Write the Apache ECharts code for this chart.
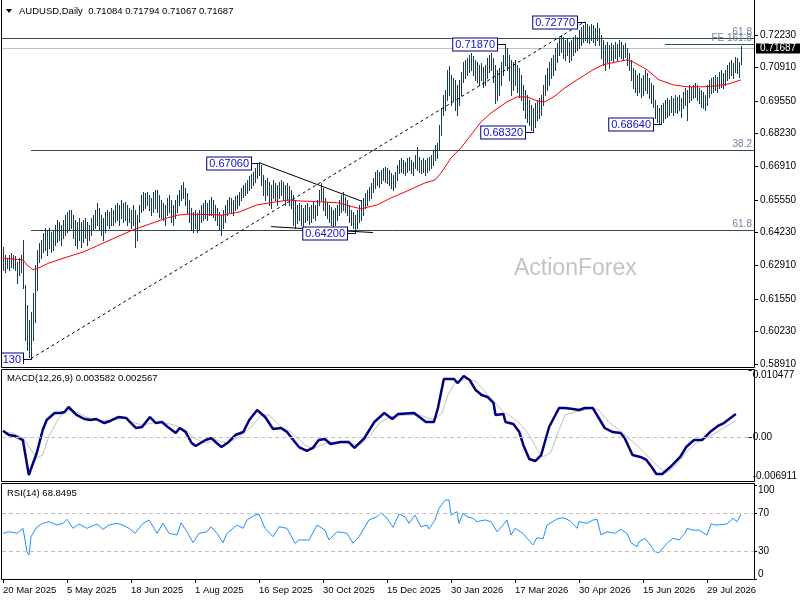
<!DOCTYPE html>
<html><head><meta charset="utf-8">
<script src="https://cdn.jsdelivr.net/npm/echarts@6/dist/echarts.min.js"></script>
<style>html,body{margin:0;padding:0;background:#fff}#c{width:800px;height:600px}</style>
</head><body><div id="c"></div>
<script>
// ---------- data ----------
const symbolTitle = 'AUDUSD,Daily';
const lastOHLC = ['0.71084', '0.71794', '0.71067', '0.71687'];
const lastClose = 0.71687;
const macdTitle = 'MACD(12,26,9)';
const macdLast = ['0.003582', '0.002567'];
const rsiTitle = 'RSI(14)';
const rsiLast = '68.8495';
const tickLabels = ['20 Mar 2025', '5 May 2025', '18 Jun 2025', '1 Aug 2025', '16 Sep 2025', '30 Oct 2025',
  '15 Dec 2025', '30 Jan 2026', '17 Mar 2026', '30 Apr 2026', '15 Jun 2026', '29 Jul 2026'];
const barsPerLabel = 32;
const priceTicks = [0.58910, 0.60230, 0.61550, 0.62910, 0.64230, 0.65550, 0.66910, 0.68230, 0.69550, 0.70910, 0.72230];
const macdTicks = [-0.006911, 0, 0.010477];
const rsiTicks = [0, 30, 70, 100];

// daily highs / lows in 1e-4 units (pips)
const highs = [
6365,6332,6320,6332,6340,6332,6328,6304,6320,6332,
6393,6211,6130,6069,6101,6178,6292,6353,6381,6393,
6421,6442,6434,6442,6425,6434,6454,6474,6466,6454,
6474,6494,6506,6515,6515,6494,6474,6466,6482,6466,
6474,6482,6466,6454,6482,6494,6515,6543,6523,6494,
6482,6506,6515,6506,6523,6515,6535,6543,6535,6555,
6543,6547,6535,6523,6515,6535,6515,6494,6535,6575,
6587,6583,6587,6575,6563,6587,6596,6596,6575,6555,
6543,6535,6563,6575,6555,6535,6555,6575,6596,6616,
6628,6604,6583,6555,6523,6506,6515,6502,6515,6535,
6543,6555,6543,6555,6567,6555,6535,6523,6506,6494,
6515,6535,6555,6567,6563,6555,6571,6575,6587,6604,
6616,6624,6636,6652,6660,6669,6685,6705,6706,6697,
6656,6636,6644,6628,6616,6636,6624,6616,6628,6636,
6628,6616,6624,6612,6596,6575,6555,6535,6543,6535,
6523,6535,6543,6527,6535,6547,6535,6555,6596,6624,
6604,6563,6547,6535,6527,6515,6523,6535,6555,6575,
6587,6567,6555,6535,6515,6506,6494,6515,6535,6555,
6563,6583,6596,6608,6624,6644,6669,6677,6669,6677,
6685,6689,6685,6677,6664,6656,6669,6697,6717,6725,
6717,6709,6725,6729,6717,6709,6737,6770,6729,6717,
6725,6717,6725,6729,6737,6758,6778,6786,6859,6928,
6980,7001,7082,7098,7061,7049,7041,7021,7041,7073,
7114,7122,7130,7142,7150,7138,7122,7114,7102,7110,
7094,7102,7130,7142,7150,7130,7102,7082,7090,7114,
7142,7187,7171,7142,7122,7114,7122,7102,7090,7061,
7021,7001,6980,6960,6940,6928,6948,6960,6968,6980,
7021,7061,7090,7114,7130,7142,7171,7191,7211,7223,
7215,7203,7211,7195,7203,7215,7223,7215,7244,7256,
7264,7277,7268,7260,7268,7264,7252,7272,7252,7223,
7203,7183,7195,7183,7191,7183,7195,7187,7203,7195,
7183,7191,7171,7150,7122,7090,7082,7061,7069,7049,
7061,7082,7069,7049,7029,7021,6960,6940,6928,6940,
6948,6960,6968,6960,6976,6968,6980,6972,6980,6968,
6992,7009,7001,7021,7013,7021,7029,7021,7009,7001,
6992,6980,7021,7041,7049,7053,7061,7053,7073,7082,
7069,7082,7102,7114,7122,7110,7134,7130,7114,7179];
const lows = [
6272,6263,6280,6272,6284,6280,6272,6219,6251,6263,
6199,5988,5948,5919,5913,5988,6061,6191,6304,6320,
6344,6353,6332,6361,6344,6353,6373,6385,6393,6373,
6401,6413,6425,6434,6442,6401,6373,6361,6393,6365,
6385,6401,6373,6393,6413,6434,6442,6454,6434,6413,
6393,6425,6454,6442,6454,6454,6466,6474,6454,6482,
6466,6474,6454,6466,6442,6454,6365,6393,6466,6506,
6515,6523,6535,6515,6494,6506,6523,6506,6486,6482,
6474,6454,6494,6506,6466,6454,6482,6506,6535,6555,
6563,6535,6502,6466,6434,6425,6442,6425,6434,6466,
6474,6482,6474,6494,6494,6486,6474,6454,6434,6413,
6442,6466,6494,6506,6502,6494,6515,6523,6535,6555,
6567,6575,6583,6596,6604,6616,6628,6644,6656,6616,
6575,6555,6575,6535,6523,6563,6555,6535,6563,6575,
6555,6535,6555,6535,6523,6454,6442,6462,6474,6454,
6450,6466,6474,6458,6466,6482,6474,6494,6535,6555,
6515,6494,6482,6466,6454,6446,6454,6474,6494,6506,
6515,6506,6494,6466,6454,6442,6420,6442,6466,6474,
6494,6523,6535,6555,6563,6587,6604,6616,6608,6624,
6636,6628,6624,6616,6604,6596,6608,6636,6664,6669,
6664,6656,6669,6677,6664,6656,6685,6677,6669,6664,
6669,6656,6669,6677,6685,6697,6717,6725,6758,6818,
6899,6920,6960,6980,6940,6960,6920,6899,6940,6980,
7033,7049,7061,7073,7082,7061,7041,7033,7021,7041,
7013,7021,7049,7073,7082,7033,6948,6960,6980,7021,
7061,7102,7082,7041,6980,7001,7021,6992,6972,6960,
6920,6887,6871,6859,6839,6832,6851,6879,6887,6899,
6940,6980,7001,7021,7049,7061,7082,7114,7142,7154,
7130,7122,7142,7114,7122,7142,7154,7163,7171,7183,
7195,7203,7195,7191,7203,7195,7183,7203,7183,7130,
7102,7082,7114,7090,7122,7114,7130,7122,7138,7130,
7122,7134,7102,7082,7041,7009,6992,6980,6992,6972,
6980,7001,6988,6968,6948,6932,6887,6871,6867,6864,
6871,6887,6891,6899,6911,6899,6911,6907,6920,6891,
6928,6940,6879,6952,6960,6968,6972,6960,6948,6932,
6928,6920,6940,6972,6988,6992,7001,6992,7009,7013,
7009,7021,7041,7049,7061,7049,7073,7069,7053,7107];

// moving average (bar index, price)
const maLine = [[0,0.6320],[10,0.6312],[12,0.6292],[15,0.6272],[18,0.6280],[23,0.6300],[32,0.6324],[40,0.6344],[48,0.6373],[65,0.6434],[82,0.6482],[88,0.6494],[93,0.6498],[110,0.6494],[118,0.6506],[127,0.6535],[133,0.6543],[143,0.6555],[148,0.6551],[160,0.6547],[168,0.6543],[175,0.6527],[179,0.6519],[187,0.6535],[194,0.6563],[202,0.6591],[211,0.6624],[216,0.6636],[219,0.6664],[224,0.6725],[229,0.6766],[234,0.6818],[239,0.6871],[244,0.6907],[252,0.6952],[257,0.6972],[262,0.6972],[267,0.6956],[271,0.6952],[276,0.6976],[281,0.7009],[287,0.7041],[295,0.7082],[300,0.7102],[307,0.7114],[312,0.7122],[315,0.7114],[322,0.7082],[328,0.7041],[335,0.7021],[342,0.7013],[350,0.7013],[357,0.7017],[363,0.7025],[369,0.7041]];

const macdLine = [[0,0.00097],[3,0.00030],[6,0.00014],[10,-0.00049],[13,-0.00597],[14,-0.00566],[17,-0.00253],[20,0.00108],[22,0.00265],[26,0.00374],[29,0.00374],[31,0.00390],[33,0.00468],[37,0.00343],[41,0.00280],[44,0.00265],[47,0.00280],[51,0.00217],[54,0.00249],[58,0.00311],[62,0.00296],[64,0.00233],[67,0.00139],[70,0.00155],[74,0.00311],[77,0.00217],[80,0.00233],[83,0.00155],[87,0.00061],[89,0.00139],[92,0.00076],[95,-0.00096],[97,-0.00143],[102,-0.00049],[105,-0.00018],[107,-0.00080],[110,-0.00159],[113,-0.00096],[117,0.00029],[121,0.00076],[124,0.00265],[128,0.00421],[132,0.00311],[136,0.00123],[140,0.00139],[143,0.00076],[147,-0.00080],[149,-0.00159],[153,-0.00221],[156,-0.00174],[159,-0.00049],[162,-0.00033],[165,-0.00112],[170,-0.00080],[174,-0.00080],[177,-0.00174],[178,-0.00174],[182,-0.00018],[187,0.00233],[192,0.00374],[196,0.00280],[199,0.00358],[207,0.00374],[213,0.00233],[217,0.00233],[219,0.00452],[222,0.00907],[227,0.00907],[229,0.00844],[232,0.00954],[235,0.00891],[238,0.00734],[241,0.00656],[244,0.00625],[247,0.00531],[248,0.00343],[252,0.00358],[253,0.00233],[257,0.00202],[260,0.00076],[262,-0.00127],[265,-0.00347],[268,-0.00378],[271,-0.00284],[275,0.00155],[280,0.00452],[283,0.00452],[287,0.00437],[290,0.00421],[293,0.00452],[297,0.00452],[300,0.00296],[303,0.00139],[307,0.00076],[311,0.00061],[313,-0.00018],[317,-0.00284],[321,-0.00315],[324,-0.00362],[327,-0.00487],[329,-0.00581],[332,-0.00581],[336,-0.00472],[341,-0.00315],[344,-0.00159],[348,-0.00049],[352,-0.00049],[356,0.00076],[360,0.00171],[363,0.00217],[369,0.003582]];

const signalLine = [[0,0.00076],[5,0.00061],[10,-0.00018],[17,-0.00331],[20,-0.00284],[23,0],[28,0.00296],[33,0.00421],[37,0.00390],[42,0.00311],[48,0.00249],[55,0.00265],[61,0.00296],[65,0.00233],[70,0.00186],[75,0.00217],[80,0.00233],[86,0.00186],[92,0.00108],[96,-0.00018],[102,-0.00096],[107,-0.00049],[113,-0.00096],[118,-0.00018],[125,0.00155],[130,0.00343],[134,0.00343],[140,0.00155],[145,0.00076],[152,-0.00127],[156,-0.00190],[160,-0.00127],[165,-0.00080],[173,-0.00096],[180,-0.00127],[185,0.00029],[190,0.00233],[195,0.00311],[202,0.00343],[210,0.00343],[217,0.00265],[221,0.00374],[224,0.00656],[228,0.00860],[233,0.00907],[238,0.00875],[245,0.00625],[252,0.00390],[257,0.00296],[260,0.00217],[265,0.00029],[270,-0.00253],[272,-0.00315],[276,-0.00237],[279,0.00029],[283,0.00343],[288,0.00390],[297,0.00452],[300,0.00421],[305,0.00233],[312,0.00061],[318,-0.00096],[325,-0.00315],[330,-0.00472],[334,-0.00566],[338,-0.00472],[345,-0.00206],[350,-0.00080],[357,0.00029],[363,0.00139],[369,0.002567]];

const rsiLine = [[0,48.6],[3,50.3],[7,48.6],[10,53.9],[12,29.0],[13,25.5],[14,45],[17,55.6],[20,59.2],[23,61],[27,57.4],[30,59.2],[32,63.5],[35,53.9],[38,58.5],[42,53.9],[47,58.5],[50,52.8],[53,57.4],[57,59.2],[60,57.4],[63,53.9],[66,48.6],[70,59.2],[73,62.8],[77,48.6],[80,59.2],[83,48.6],[87,46.8],[89,59.9],[92,50.3],[95,38.6],[98,48.6],[102,50.3],[104,55.6],[107,48.6],[110,38.6],[112,48.6],[117,57.4],[120,53.9],[122,62.8],[126,68],[128,69],[131,53.9],[135,45],[138,55.6],[142,53.9],[146,38],[148,41.5],[153,41.5],[157,57.4],[161,52],[163,41.5],[167,50.3],[172,48.6],[175,38],[178,45],[183,62.8],[187,66.3],[189,70.5],[192,64.6],[195,55],[198,69],[201,66.3],[203,59.2],[206,68],[209,55.6],[212,57.4],[213,53.2],[216,62.8],[218,75.2],[221,84],[223,84],[224,68],[227,71.6],[228,59.2],[230,69.9],[232,66.3],[235,64.6],[237,61],[241,62.8],[244,61],[247,50.3],[250,57.4],[252,62.8],[254,46.8],[256,53.9],[257,52],[260,48.6],[262,43.3],[265,36.2],[267,44],[270,42.6],[272,57.4],[277,63.8],[280,65.2],[282,63.5],[284,61],[287,53.9],[288,61],[292,59.2],[295,62.8],[297,63.5],[299,46.8],[302,50.3],[306,48.6],[309,52.8],[312,48.6],[314,38.6],[317,34.4],[318,39.7],[321,43.3],[323,38],[326,29],[328,28],[332,38],[335,43.3],[338,41.5],[341,48.6],[342,53.9],[345,52],[348,52],[352,46.8],[354,58.5],[357,57.4],[362,58.5],[365,64.6],[367,61],[369,68.8495]];

// analysis drawings (bar index, price[, text])
const fibLevels = [[0, 0.7211, '61.8'], [14, 0.6759, '38.2'], [14, 0.6435, '61.8'], [331, 0.7186, 'FE 161.8']];
const priceNotes = [[291, 0.7277, '0.72770'], [251, 0.7187, '0.71870'], [128, 0.6706, '0.67060'], [176, 0.6420, '0.64200'],
  [265, 0.6832, '0.68320'], [329, 0.6864, '0.68640'], [14, 0.5913, '0.59130']];
const trendDashed = [[14, 0.5913], [291, 0.7277]];
const triUpper = [[128, 0.6706], [179, 0.6551]];
const triLower = [[134, 0.6447], [185, 0.6423]];

// ---------- chart ----------
const slots = 376;
const categories = Array.from({length: slots}, (_, i) => i);
const barData = highs.map((h, i) => [i, lows[i] / 10000, h / 10000]);
const showTick = (idx) => idx % barsPerLabel === 0 && idx / barsPerLabel < tickLabels.length;
const FONT = 'Liberation Sans';
const barColor = '#173b52';

const chart = echarts.init(document.getElementById('c'), null, {renderer: 'canvas'});
const grids = [
  {left: 2, right: 46, top: 2, height: 362},
  {left: 2, right: 46, top: 370, height: 111},
  {left: 2, right: 46, top: 485, height: 94}
];
const xAxes = grids.map((g, gi) => ({
  gridIndex: gi, type: 'category', data: categories, boundaryGap: true,
  axisLine: {show: false}, splitLine: {show: false},
  axisTick: {show: gi === 2, interval: showTick, alignWithLabel: true, length: 4, lineStyle: {color: '#000'}},
  axisLabel: {show: gi === 2, interval: showTick, align: 'left', margin: 6, color: '#000', fontSize: 9.5, fontFamily: FONT,
    formatter: (v, idx) => tickLabels[Math.round(idx / barsPerLabel)] || ''}
}));
const yBase = {type: 'value', position: 'right', axisLine: {show: false}, splitLine: {show: false}};
const yAxes = [
  Object.assign({}, yBase, {gridIndex: 0, min: 0.5891, max: 0.73562,
    axisTick: {show: true, customValues: priceTicks, length: 4, lineStyle: {color: '#000'}},
    axisLabel: {customValues: priceTicks, formatter: v => v.toFixed(5), color: '#000', fontSize: 10, fontFamily: FONT, margin: 6}}),
  Object.assign({}, yBase, {gridIndex: 1, min: macdTicks[0], max: macdTicks[2],
    axisTick: {show: true, customValues: macdTicks, length: 3, lineStyle: {color: '#000'}},
    axisLabel: {customValues: macdTicks, formatter: v => v === 0 ? '0.00' : v.toFixed(6), color: '#000', fontSize: 10, fontFamily: FONT, margin: 4,
      verticalAlignMinLabel: 'bottom', verticalAlignMaxLabel: 'top'}}),
  Object.assign({}, yBase, {gridIndex: 2, min: 0, max: 100,
    axisTick: {show: true, customValues: rsiTicks, length: 3, lineStyle: {color: '#000'}},
    axisLabel: {customValues: rsiTicks, formatter: v => String(v), color: '#000', fontSize: 10, fontFamily: FONT, margin: 4,
      verticalAlignMinLabel: 'bottom', verticalAlignMaxLabel: 'top'}})
];

const series = [
  { // fib / expansion levels
    type: 'custom', xAxisIndex: 0, yAxisIndex: 0, z: 1, silent: true, clip: false,
    data: fibLevels.map(l => [l[0], l[1]]),
    encode: {x: 0, y: 1},
    renderItem: (params, api) => {
      const lv = fibLevels[params.dataIndex];
      const p = api.coord([api.value(0), api.value(1)]);
      const cs = params.coordSys;
      const y = Math.round(p[1]) + 0.5;
      const xs = lv[0] === 0 ? cs.x : p[0];
      const xe = cs.x + cs.width;
      return {type: 'group', children: [
        {type: 'line', shape: {x1: xs, y1: y, x2: xe, y2: y}, style: {stroke: '#2f4f4f', lineWidth: 1}},
        {type: 'text', x: xe - 2, y: y - 1, style: {text: lv[2], align: 'right', verticalAlign: 'bottom',
          fill: '#71839a', fontSize: 10, fontFamily: FONT}}
      ]};
    }
  },
  { // current price line + tag
    type: 'custom', xAxisIndex: 0, yAxisIndex: 0, z: 1, silent: true, clip: false,
    data: [[highs.length - 1, lastClose]], encode: {x: 0, y: 1},
    renderItem: (params, api) => {
      const p = api.coord([api.value(0), api.value(1)]);
      const cs = params.coordSys;
      const y = Math.round(p[1]) + 0.5;
      const xe = cs.x + cs.width;
      return {type: 'group', children: [
        {type: 'line', shape: {x1: cs.x, y1: y, x2: xe, y2: y}, style: {stroke: '#c0c0c0', lineWidth: 1}},
        {type: 'text', x: xe + 2, y: y, style: {text: lastOHLC[3], align: 'left', verticalAlign: 'middle',
          fill: '#fff', fontSize: 10, fontFamily: FONT, backgroundColor: '#000', padding: [0, 4, 0, 4], lineHeight: 10}}
      ]};
    }
  },
  { // price bars
    type: 'custom', name: 'AUDUSD', xAxisIndex: 0, yAxisIndex: 0, z: 2, silent: true,
    data: barData, encode: {x: 0, y: [1, 2]},
    renderItem: (params, api) => {
      const i = api.value(0);
      const t = api.coord([i, api.value(2)]);
      const b = api.coord([i, api.value(1)]);
      const x = Math.round(t[0]) + 0.5;
      return {type: 'line', shape: {x1: x, y1: Math.round(t[1]), x2: x, y2: Math.round(b[1]) + 1},
        style: {stroke: barColor, lineWidth: 1}};
    }
  },
  {
    type: 'line', name: 'MA', xAxisIndex: 0, yAxisIndex: 0, data: maLine, symbol: 'none', z: 3, silent: true,
    lineStyle: {color: '#ff0000', width: 1}
  },
  {
    type: 'line', xAxisIndex: 0, yAxisIndex: 0, data: trendDashed, symbol: 'none', z: 4, silent: true,
    lineStyle: {color: '#000', width: 1, type: [3, 3]}
  },
  {
    type: 'line', xAxisIndex: 0, yAxisIndex: 0, data: triUpper, symbol: 'none', z: 4, silent: true,
    lineStyle: {color: '#000', width: 1}
  },
  {
    type: 'line', xAxisIndex: 0, yAxisIndex: 0, data: triLower, symbol: 'none', z: 4, silent: true,
    lineStyle: {color: '#000', width: 1}
  },
  { // boxed price notes
    type: 'custom', xAxisIndex: 0, yAxisIndex: 0, z: 10, silent: true, clip: true,
    data: priceNotes.map(n => [n[0], n[1]]), encode: {x: 0, y: 1},
    renderItem: (params, api) => {
      const n = priceNotes[params.dataIndex];
      const p = api.coord([api.value(0), api.value(1)]);
      const y = Math.round(p[1]) + 0.5;
      const xr = Math.round(p[0]) - 8;
      return {type: 'group', children: [
        {type: 'line', shape: {x1: xr, y1: y, x2: Math.round(p[0]), y2: y}, style: {stroke: '#000080', lineWidth: 1}},
        {type: 'text', x: xr, y: y, style: {text: n[2], align: 'right', verticalAlign: 'middle', fill: '#1010c8',
          fontSize: 11, fontFamily: FONT, backgroundColor: '#fff', borderColor: '#000080', borderWidth: 1, padding: [1, 2, 0, 2]}}
      ]};
    }
  },
  {
    type: 'line', name: 'Signal', xAxisIndex: 1, yAxisIndex: 1, data: signalLine, symbol: 'none', z: 3, silent: true,
    lineStyle: {color: '#c0c0c0', width: 1},
    markLine: {silent: true, symbol: 'none', animation: false, label: {show: false},
      lineStyle: {color: '#c0c0c0', type: [4, 3], width: 1}, data: [{yAxis: 0}]}
  },
  {
    type: 'line', name: 'MACD', xAxisIndex: 1, yAxisIndex: 1, data: macdLine, symbol: 'none', z: 4, silent: true,
    lineStyle: {color: '#000080', width: 2.5}
  },
  {
    type: 'line', name: 'RSI', xAxisIndex: 2, yAxisIndex: 2, data: rsiLine, symbol: 'none', z: 4, silent: true,
    lineStyle: {color: '#1e90ff', width: 1},
    markLine: {silent: true, symbol: 'none', animation: false, label: {show: false},
      lineStyle: {color: '#c0c0c0', type: [4, 3], width: 1}, data: [{yAxis: 70}, {yAxis: 30}]}
  }
];

const graphic = [
  {type: 'text', left: 514, top: 257, z: 0, silent: true,
    style: {text: 'ActionForex', fill: '#c4c4c4', fontSize: 23, fontFamily: FONT}},
  {type: 'polygon', z: 50, silent: true, shape: {points: [[6, 9], [12, 9], [9, 13]]}, style: {fill: '#000'}},
  {type: 'text', left: 19, top: 6, z: 50, silent: true,
    style: {text: symbolTitle + '  ' + lastOHLC.join(' '), fill: '#000', fontSize: 9.5, fontFamily: FONT}},
  {type: 'text', left: 7, top: 373, z: 50, silent: true,
    style: {text: macdTitle + ' ' + macdLast.join(' '), fill: '#000', fontSize: 9.5, fontFamily: FONT}},
  {type: 'text', left: 7, top: 488, z: 50, silent: true,
    style: {text: rsiTitle + ' ' + rsiLast, fill: '#000', fontSize: 9.5, fontFamily: FONT}},
  {type: 'rect', z: 100, silent: true, shape: {x: 1.5, y: -1, width: 753, height: 368.5}, style: {fill: 'none', stroke: '#000', lineWidth: 1}},
  {type: 'rect', z: 100, silent: true, shape: {x: 1.5, y: 369.5, width: 753, height: 112}, style: {fill: 'none', stroke: '#000', lineWidth: 1}},
  {type: 'rect', z: 100, silent: true, shape: {x: 1.5, y: 483.5, width: 753, height: 96}, style: {fill: 'none', stroke: '#000', lineWidth: 1}}
];

chart.setOption({
  animation: false,
  backgroundColor: '#fff',
  grid: grids,
  xAxis: xAxes,
  yAxis: yAxes,
  series: series,
  graphic: graphic
});
</script></body></html>
